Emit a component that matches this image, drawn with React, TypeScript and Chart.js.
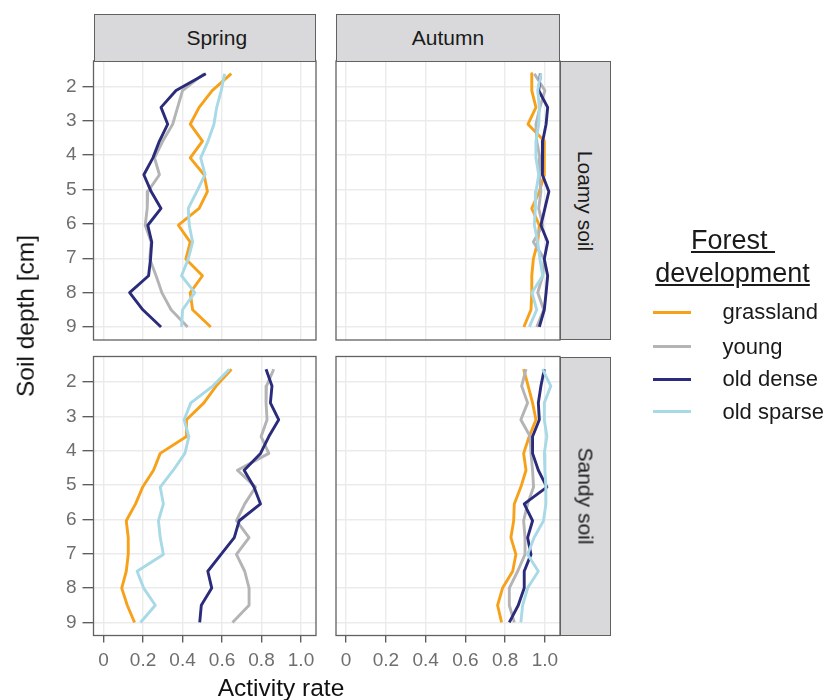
import React, { useEffect, useRef } from "react";
import { Chart, registerables } from "chart.js";

Chart.register(...registerables);

// ---------- data ----------
const depth = [1.63, 2.12, 2.61, 3.1, 3.59, 4.08, 4.57, 5.06, 5.55, 6.04, 6.53, 7.02, 7.51, 8.0, 8.5, 9.0];

const seriesNames = ["grassland", "young", "old dense", "old sparse"];
const seriesColors = ["#f7a11a", "#b4b4b6", "#2b2b7b", "#a8d9e6"];

const seasons = ["Spring", "Autumn"];
const soils = ["Loamy soil", "Sandy soil"];

const xTickValues = [0, 0.2, 0.4, 0.6, 0.8, 1.0];
const xTickLabels = ["0", "0.2", "0.4", "0.6", "0.8", "1.0"];
const yTickValues = [2, 3, 4, 5, 6, 7, 8, 9];
const yTickLabels = ["2", "3", "4", "5", "6", "7", "8", "9"];

// Spring, loamy soil
const springLoamyGrassland = [0.647, 0.55, 0.484, 0.439, 0.501, 0.439, 0.509, 0.526, 0.484, 0.379, 0.439, 0.417, 0.501, 0.439, 0.451, 0.543];
const springLoamyYoung = [0.509, 0.4, 0.375, 0.35, 0.3, 0.258, 0.283, 0.224, 0.221, 0.211, 0.241, 0.234, 0.266, 0.295, 0.342, 0.426];
const springLoamyOldDense = [0.518, 0.367, 0.291, 0.325, 0.283, 0.25, 0.204, 0.241, 0.291, 0.224, 0.244, 0.238, 0.228, 0.132, 0.199, 0.291];
const springLoamyOldSparse = [0.613, 0.596, 0.573, 0.559, 0.529, 0.492, 0.514, 0.472, 0.429, 0.434, 0.451, 0.429, 0.395, 0.462, 0.4, 0.395];

// Autumn, loamy soil
const autumnLoamyGrassland = [0.934, 0.934, 0.955, 0.915, 0.997, 0.997, 0.997, 0.972, 0.934, 0.972, 0.964, 0.942, 0.934, 0.934, 0.93, 0.894];
const autumnLoamyYoung = [0.947, 1.0, 0.975, 0.955, 0.959, 0.975, 0.972, 0.98, 0.969, 0.989, 0.942, 0.997, 0.989, 0.964, 0.994, 0.959];
const autumnLoamyOldDense = [0.977, 0.969, 1.014, 1.006, 0.989, 0.986, 0.989, 1.02, 1.0, 0.98, 1.014, 0.997, 1.014, 1.006, 0.997, 0.972];
const autumnLoamyOldSparse = [0.98, 0.964, 0.972, 0.969, 0.955, 0.955, 0.969, 0.955, 0.952, 0.947, 0.964, 0.975, 0.989, 0.935, 0.959, 0.922];

// Spring, sandy soil
const springSandyGrassland = [0.648, 0.57, 0.508, 0.42, 0.42, 0.287, 0.253, 0.198, 0.162, 0.115, 0.125, 0.125, 0.115, 0.092, 0.12, 0.157];
const springSandyYoung = [0.862, 0.825, 0.823, 0.828, 0.798, 0.837, 0.678, 0.77, 0.715, 0.673, 0.737, 0.673, 0.715, 0.737, 0.737, 0.653];
const springSandyOldDense = [0.823, 0.853, 0.845, 0.887, 0.837, 0.795, 0.712, 0.762, 0.795, 0.687, 0.662, 0.595, 0.528, 0.548, 0.495, 0.487];
const springSandyOldSparse = [0.637, 0.553, 0.442, 0.408, 0.432, 0.412, 0.353, 0.287, 0.303, 0.278, 0.287, 0.303, 0.17, 0.203, 0.262, 0.187];

// Autumn, sandy soil
const autumnSandyGrassland = [0.893, 0.916, 0.938, 0.955, 0.921, 0.893, 0.905, 0.879, 0.846, 0.843, 0.829, 0.854, 0.838, 0.787, 0.762, 0.782];
const autumnSandyYoung = [0.905, 0.883, 0.913, 0.879, 0.926, 0.93, 0.938, 0.943, 0.913, 0.893, 0.9, 0.9, 0.863, 0.821, 0.821, 0.846];
const autumnSandyOldDense = [0.997, 0.98, 0.967, 0.972, 0.938, 0.938, 0.967, 1.01, 0.896, 0.938, 0.913, 0.93, 0.896, 0.896, 0.866, 0.821];
const autumnSandyOldSparse = [0.988, 1.03, 0.997, 0.997, 1.01, 0.997, 1.0, 1.005, 1.005, 0.993, 0.946, 0.913, 0.967, 0.913, 0.888, 0.879];

// ---------- layout / style ----------
const W = 827;
const H = 700;
const FONT = "'Liberation Sans', Arial, Helvetica, sans-serif";
const X_MIN = -0.051;
const X_MAX = 1.076;
const Y_MIN = 1.26;
const Y_MAX = 9.38;
const BORDER = "#616161";
const GRID = "#ebebeb";
const TICK_TEXT = "#6e6e6e";

type Rect = { l: number; t: number; r: number; b: number };
type PanelSpec = { values: number[][]; rect: Rect; showX: boolean; showY: boolean };

const COL_L = [93.5, 336];
const COL_R = [316, 560];
const ROW_T = [61, 356.5];
const ROW_B = [340, 635.5];

const panels: PanelSpec[] = [
  { values: [springLoamyGrassland, springLoamyYoung, springLoamyOldDense, springLoamyOldSparse], rect: { l: COL_L[0], t: ROW_T[0], r: COL_R[0], b: ROW_B[0] }, showX: false, showY: true },
  { values: [autumnLoamyGrassland, autumnLoamyYoung, autumnLoamyOldDense, autumnLoamyOldSparse], rect: { l: COL_L[1], t: ROW_T[0], r: COL_R[1], b: ROW_B[0] }, showX: false, showY: false },
  { values: [springSandyGrassland, springSandyYoung, springSandyOldDense, springSandyOldSparse], rect: { l: COL_L[0], t: ROW_T[1], r: COL_R[0], b: ROW_B[1] }, showX: true, showY: true },
  { values: [autumnSandyGrassland, autumnSandyYoung, autumnSandyOldDense, autumnSandyOldSparse], rect: { l: COL_L[1], t: ROW_T[1], r: COL_R[1], b: ROW_B[1] }, showX: true, showY: false },
];

function Panel({ spec }: { spec: PanelSpec }) {
  const ref = useRef<HTMLCanvasElement>(null);
  useEffect(() => {
    if (!ref.current) return;
    const { rect, showX, showY, values } = spec;
    const borderPlugin = {
      id: "panelBorder",
      afterDraw(chart: any) {
        const { ctx, chartArea: a } = chart;
        ctx.save();
        ctx.strokeStyle = BORDER;
        ctx.lineWidth = 1.3;
        ctx.strokeRect(a.left, a.top, a.right - a.left, a.bottom - a.top);
        ctx.restore();
      },
    };
    const datasets = [3, 2, 1, 0].map((i) => ({
      label: seriesNames[i],
      data: depth.map((d, k) => ({ x: values[i][k], y: d })),
      showLine: true,
      borderColor: seriesColors[i],
      backgroundColor: seriesColors[i],
      borderWidth: 2.9,
      borderJoinStyle: "round" as const,
      pointRadius: 0,
      pointHoverRadius: 0,
      tension: 0,
    }));
    const chart = new Chart(ref.current, {
      type: "scatter",
      data: { datasets },
      plugins: [borderPlugin],
      options: {
        animation: false,
        responsive: false,
        maintainAspectRatio: false,
        devicePixelRatio: 1,
        events: [],
        layout: { autoPadding: false, padding: { left: 0, top: rect.t, right: W - rect.r, bottom: 0 } },
        plugins: { legend: { display: false }, tooltip: { enabled: false } },
        scales: {
          x: {
            type: "linear",
            position: "bottom",
            min: X_MIN,
            max: X_MAX,
            afterBuildTicks: (s: any) => {
              s.ticks = xTickValues.map((v) => ({ value: v }));
            },
            afterFit: (s: any) => {
              s.height = H - rect.b;
            },
            border: { display: false },
            grid: { color: GRID, lineWidth: 1.4, drawTicks: showX, tickLength: 7, tickColor: "#555", tickWidth: 1.3 },
            ticks: {
              display: showX,
              color: TICK_TEXT,
              font: { family: FONT, size: 19 },
              padding: 7,
              maxRotation: 0,
              autoSkip: false,
              callback: (_v: any, i: number) => xTickLabels[i],
            },
          },
          y: {
            type: "linear",
            position: "left",
            reverse: true,
            min: Y_MIN,
            max: Y_MAX,
            afterBuildTicks: (s: any) => {
              s.ticks = yTickValues.map((v) => ({ value: v }));
            },
            afterFit: (s: any) => {
              s.width = rect.l;
            },
            border: { display: false },
            grid: { color: GRID, lineWidth: 1.4, drawTicks: showY, tickLength: 11, tickColor: "#555", tickWidth: 1.3 },
            ticks: {
              display: showY,
              color: TICK_TEXT,
              font: { family: FONT, size: 19 },
              padding: 6,
              autoSkip: false,
              callback: (_v: any, i: number) => yTickLabels[i],
            },
          },
        },
      } as any,
    });
    return () => chart.destroy();
  }, [spec]);
  return <canvas ref={ref} width={W} height={H} style={{ position: "absolute", left: 0, top: 0, width: W, height: H }} />;
}

const stripBase: React.CSSProperties = {
  position: "absolute",
  background: "#d9d9db",
  border: `1.3px solid ${BORDER}`,
  boxSizing: "border-box",
  display: "flex",
  alignItems: "center",
  justifyContent: "center",
  color: "#1a1a1a",
  fontSize: 21,
  whiteSpace: "nowrap",
};

const legendKeyY = [312.3, 346.7, 379, 411.7];

export default function App() {
  return (
    <div style={{ position: "absolute", left: 0, top: 0, width: W, height: H, background: "#fff", fontFamily: FONT, overflow: "hidden" }}>
      {panels.map((p, i) => (
        <Panel key={i} spec={p} />
      ))}
      {/* top strips */}
      <div style={{ ...stripBase, left: COL_L[0], top: 14, width: COL_R[0] - COL_L[0], height: ROW_T[0] - 14 + 0.6 }}>
        <span style={{ paddingLeft: 24 }}>{seasons[0]}</span>
      </div>
      <div style={{ ...stripBase, left: COL_L[1], top: 14, width: COL_R[1] - COL_L[1], height: ROW_T[0] - 14 + 0.6 }}>
        <span>{seasons[1]}</span>
      </div>
      {/* right strips */}
      {[0, 1].map((r) => (
        <div key={r} style={{ ...stripBase, left: COL_R[1], top: ROW_T[r], width: 50.7, height: ROW_B[r] - ROW_T[r] }}>
          <span style={{ display: "inline-block", transform: "rotate(90deg)" }}>{soils[r]}</span>
        </div>
      ))}
      {/* axis titles */}
      <div style={{ position: "absolute", left: 281, top: 676, transform: "translateX(-50%)", fontSize: 24.5, lineHeight: 1, color: "#111", whiteSpace: "nowrap" }}>
        Activity rate
      </div>
      <div style={{ position: "absolute", left: 26, top: 316, transform: "translate(-50%, -50%) rotate(-90deg)", fontSize: 24.5, lineHeight: 1, color: "#111", whiteSpace: "nowrap" }}>
        Soil depth [cm]
      </div>
      {/* legend */}
      <div style={{ position: "absolute", left: 733, top: 227, transform: "translateX(-50%)", fontSize: 27, lineHeight: 1, color: "#1a1a1a", textDecoration: "underline", whiteSpace: "pre" }}>
        {"Forest "}
      </div>
      <div style={{ position: "absolute", left: 732.5, top: 260, transform: "translateX(-50%)", fontSize: 27, lineHeight: 1, color: "#1a1a1a", textDecoration: "underline", whiteSpace: "pre" }}>
        development
      </div>
      {seriesNames.map((n, i) => (
        <React.Fragment key={n}>
          <div style={{ position: "absolute", left: 653, top: legendKeyY[i] - 1.5, width: 38, height: 3, background: seriesColors[i] }} />
          <div style={{ position: "absolute", left: 722.5, top: legendKeyY[i] - 11, fontSize: 22, lineHeight: 1, color: "#1a1a1a", whiteSpace: "nowrap" }}>
            {n}
          </div>
        </React.Fragment>
      ))}
    </div>
  );
}
